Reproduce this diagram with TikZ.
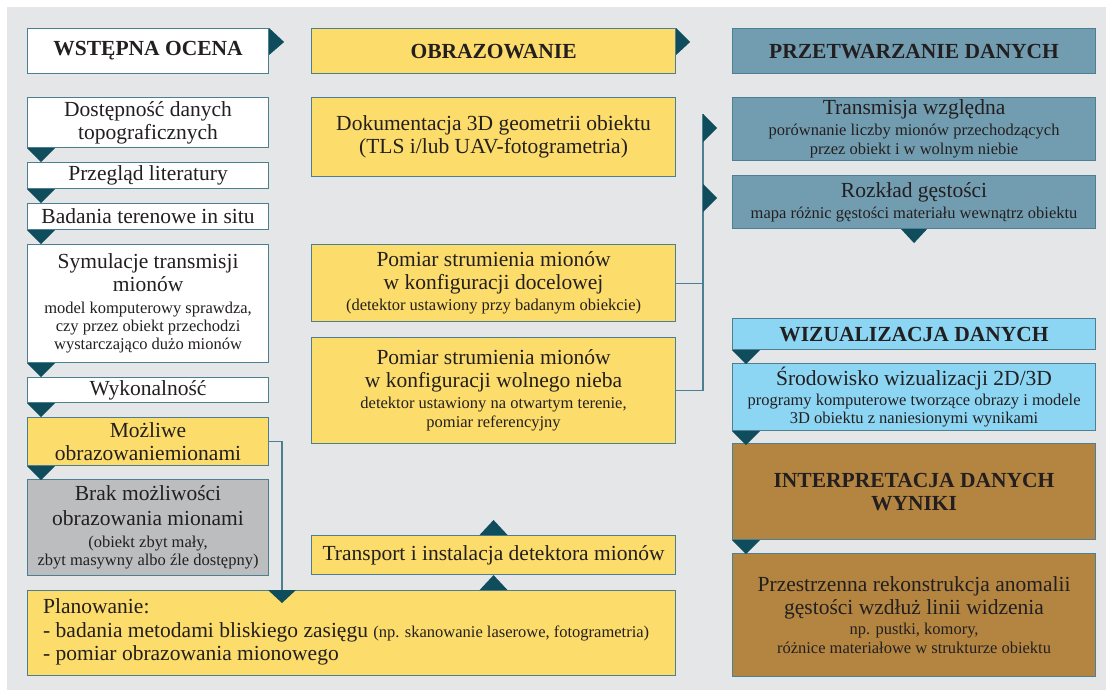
\documentclass[tikz,border=0pt]{standalone}
\usepackage{fontspec}
\setmainfont{Liberation Serif}
\definecolor{bgc}{HTML}{E5E6E8}
\definecolor{bordc}{HTML}{4D7F92}
\definecolor{tric}{HTML}{0F4C5C}
\definecolor{yel}{HTML}{FCDC6A}
\definecolor{grayb}{HTML}{BCBDBF}
\definecolor{steel}{HTML}{729DB0}
\definecolor{lblue}{HTML}{8DD6F3}
\definecolor{brown}{HTML}{B38541}
\definecolor{txt}{HTML}{231F20}
\newcommand\mybig{\fontsize{21.5pt}{23pt}\selectfont}
\newcommand\mysmall{\fontsize{16.5pt}{18pt}\selectfont}
\begin{document}
\begin{tikzpicture}[x=1pt,y=-1pt,
  base/.style={draw=bordc, line width=1.1pt, inner sep=0pt, align=center, text=txt, font=\mybig, anchor=north west},
  wbox/.style={base, fill=white},
  ybox/.style={base, fill=yel},
  gbox/.style={base, fill=grayb},
  sbox/.style={base, fill=steel},
  lbox/.style={base, fill=lblue},
  bbox/.style={base, fill=brown},
  ttl/.style={font=\mybig\bfseries},
  tri/.style={fill=tric},
  conn/.style={draw=bordc, line width=1.1pt}]
\useasboundingbox (0,0) rectangle (1106,690);
\fill[bgc] (7,7) rectangle (1106,690);

% left column
\node[wbox, ttl, minimum width=241, minimum height=45] (wst) at (27,28) {WSTĘPNA OCENA};
\node[wbox, minimum width=241, minimum height=50] (dost) at (27,97) {Dostępność danych\\topograficznych};
\node[wbox, minimum width=241, minimum height=26] (prz) at (27,162) {Przegląd literatury};
\node[wbox, minimum width=241, minimum height=26] (bad) at (27,203) {Badania terenowe in situ};
\node[wbox, minimum width=241, minimum height=118] (sym) at (27,244) {Symulacje transmisji\\mionów\\[-1pt]{\mysmall model komputerowy sprawdza,}\\[-5pt]{\mysmall czy przez obiekt przechodzi}\\[-5pt]{\mysmall wystarczająco dużo mionów}};
\node[wbox, minimum width=241, minimum height=25] (wyk) at (27,377) {Wykonalność};
\node[ybox, minimum width=241, minimum height=48] (mozl) at (27,417) {Możliwe\\obrazowaniemionami};
\node[gbox, minimum width=241, minimum height=96] (brak) at (27,479) {Brak możliwości\\[2pt]obrazowania mionami\\[-1pt]{\mysmall (obiekt zbyt mały,}\\[-5pt]{\mysmall zbyt masywny albo źle dostępny)}};
\node[ybox, minimum width=648, minimum height=85] (plan) at (27,590) {};
\node[anchor=west, align=left, inner sep=0pt, text=txt, font=\mybig] (plantxt) at ([xshift=16pt, yshift=1pt]plan.west) {Planowanie:\\[1pt]- badania metodami bliskiego zasięgu {\mysmall (np. skanowanie laserowe, fotogrametria)}\\- pomiar obrazowania mionowego};

% middle column
\node[ybox, ttl, minimum width=364, minimum height=45] (obr) at (311,28) {OBRAZOWANIE};
\node[ybox, minimum width=364, minimum height=79] (dok) at (311,97) {Dokumentacja 3D geometrii obiektu\\(TLS i/lub UAV-fotogrametria)};
\node[ybox, minimum width=364, minimum height=77] (pd) at (311,244) {Pomiar strumienia mionów\\w konfiguracji docelowej\\[-2pt]{\mysmall (detektor ustawiony przy badanym obiekcie)}};
\node[ybox, minimum width=364, minimum height=106] (pw) at (311,337) {Pomiar strumienia mionów\\w konfiguracji wolnego nieba\\[-2pt]{\mysmall detektor ustawiony na otwartym terenie,}\\[-4pt]{\mysmall pomiar referencyjny}};
\node[ybox, minimum width=364, minimum height=39] (tr) at (311,535) {Transport i instalacja detektora mionów};

% right column
\node[sbox, ttl, minimum width=363, minimum height=45] (przt) at (732,28) {PRZETWARZANIE DANYCH};
\node[sbox, minimum width=363, minimum height=63] (trans) at (732,97) {Transmisja względna\\[-2pt]{\mysmall porównanie liczby mionów przechodzących}\\[-4pt]{\mysmall przez obiekt i w wolnym niebie}};
\node[sbox, minimum width=363, minimum height=53] (rozk) at (732,175) {Rozkład gęstości\\[-2pt]{\mysmall mapa różnic gęstości materiału wewnątrz obiektu}};
\node[lbox, ttl, minimum width=363, minimum height=31] (wiz) at (732,318) {WIZUALIZACJA DANYCH};
\node[lbox, minimum width=363, minimum height=67] (srod) at (732,363) {Środowisko wizualizacji 2D/3D\\[-3pt]{\mysmall programy komputerowe tworzące obrazy i modele}\\[-5pt]{\mysmall 3D obiektu z naniesionymi wynikami}};
\node[bbox, ttl, minimum width=363, minimum height=96] (int) at (732,443) {INTERPRETACJA DANYCH\\WYNIKI};
\node[bbox, minimum width=363, minimum height=123] (przes) at (732,553) {Przestrzenna rekonstrukcja anomalii\\gęstości wzdłuż linii widzenia\\[-3pt]{\mysmall np. pustki, komory,}\\[-4pt]{\mysmall różnice materiałowe w strukturze obiektu}};

% connectors
\coordinate (plantop) at (282,590);
\coordinate (jtop) at (703,114);
\draw[conn] (mozl.east) -| (plantop);
\draw[conn] (pd.east) -- (pd.east -| jtop);
\draw[conn] (pw.east) -| (jtop);

% triangles
\fill[tri] (wst.north east) -- ++(15,14) -- ++(-15,13) -- cycle;
\fill[tri] (obr.north east) -- ++(14,14) -- ++(-14,13) -- cycle;
\foreach \b in {dost,prz,bad,sym,wyk,mozl}
  \fill[tri] (\b.south west) -- ++(28,0) -- ++(-14,14) -- cycle;
\fill[tri] (plantop) ++(-14,0) -- ++(28,0) -- ++(-14,13) -- cycle;
\fill[tri] (tr.north) ++(-14,0) -- ++(28,0) -- ++(-14,-15) -- cycle;
\fill[tri] (tr.south) ++(-14,15) -- ++(28,0) -- ++(-14,-15) -- cycle;
\fill[tri] (jtop) -- ++(14,14) -- ++(-14,14) -- cycle;
\fill[tri] (703,184) -- ++(14,14) -- ++(-14,14) -- cycle;
\fill[tri] (rozk.south) ++(-13,0) -- ++(26,0) -- ++(-13,14) -- cycle;
\foreach \b in {wiz,srod,int}
  \fill[tri] (\b.south west) -- ++(28,0) -- ++(-14,14) -- cycle;
\end{tikzpicture}
\end{document}
